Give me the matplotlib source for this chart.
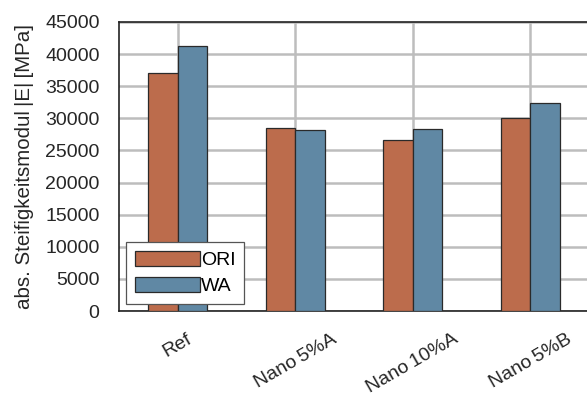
import numpy as np
import matplotlib.pyplot as plt

plt.rcParams["font.family"] = ["Liberation Sans", "DejaVu Sans"]

categories = ["Ref", "Nano\u20095%A", "Nano\u200910%A", "Nano\u20095%B"]
ori = [37000, 28500, 26600, 30000]
wa = [41300, 28200, 28300, 32400]

c_ori = "#bc6c4c"
c_wa = "#6088a4"
txt = "#262626"
fs = 14

fig = plt.figure(figsize=(5.87, 3.97), dpi=100)
# axes runs slightly past the right edge, as in the original
ax = fig.add_axes([119 / 587, 1 - 311 / 397, 470 / 587, 289 / 397])

x = np.arange(len(categories))
w = 0.25
ax.bar(x - w / 2, ori, w, color=c_ori, edgecolor="#2a2a2a", linewidth=0.9, label="ORI", zorder=3)
ax.bar(x + w / 2, wa, w, color=c_wa, edgecolor="#2a2a2a", linewidth=0.9, label="WA", zorder=3)

ax.set_xlim(-0.5, 3.5)
ax.set_ylim(0, 45000)
ax.set_yticks(np.arange(0, 45001, 5000))
ax.set_xticks(x)
ax.set_xticklabels(categories, rotation=30, ha="center", fontsize=fs, color=txt)
ax.tick_params(axis="y", labelsize=fs, labelcolor=txt, length=0, pad=14)
ax.tick_params(axis="x", length=0, pad=14)

ax.grid(True, color="#bdbdbd", linewidth=1.8, zorder=0)
ax.set_axisbelow(True)
for s in ["left", "bottom", "top"]:
    ax.spines[s].set_color("#222222")
    ax.spines[s].set_linewidth(1.2)
ax.spines["right"].set_visible(False)

ax.set_ylabel("abs. Steifigkeitsmodul\u2009|E|\u2009[MPa]", fontsize=14.8, color=txt, labelpad=8)

leg = ax.legend(loc="lower left", borderaxespad=0.35, fontsize=fs, frameon=True, framealpha=1,
                fancybox=False, edgecolor="#555555", handlelength=3.35, handleheight=0.82,
                handletextpad=0.05, borderpad=0.45, labelspacing=0.4)
leg.get_frame().set_linewidth(0.9)

fig.savefig("out.png", dpi=100)
